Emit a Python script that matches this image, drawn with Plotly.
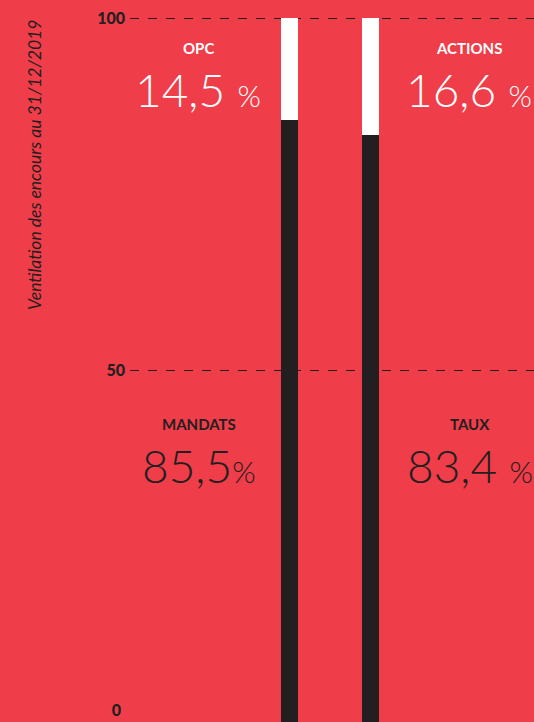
import plotly.graph_objects as go

# ---- data ----
categories = ["OPC / Mandats", "Actions / Taux"]
bottom_labels = ["MANDATS", "TAUX"]
bottom_values = [85.5, 83.4]
top_labels = ["OPC", "ACTIONS"]
top_values = [14.5, 16.6]
bottom_texts = ["85,5", "83,4"]
top_texts = ["14,5", "16,6"]
y_ticks = [50, 100]
y_title = "Ventilation des encours au 31/12/2019"

RED = "#EF3D49"
DARK = "#231F20"
WHITE = "#FFFFFF"

W, H = 534, 722
ML, MT = 130, 17
PW, PH = W - ML, H - MT
YMAX = 100.2

def px(x):
    return (x - ML) / PW

def py(y):
    return (H - y) / PH

fig = go.Figure()
fig.add_trace(go.Bar(x=[0, 1], y=bottom_values, marker=dict(color=DARK, line=dict(width=0)),
                     width=0.21, hoverinfo="skip"))
fig.add_trace(go.Bar(x=[0, 1], y=top_values, marker=dict(color=WHITE, line=dict(width=0)),
                     width=0.21, hoverinfo="skip"))
# invisible trace to carry the secondary axis for the "0" label
fig.add_trace(go.Scatter(x=[0], y=[50], yaxis="y2", mode="markers",
                         marker=dict(opacity=0), hoverinfo="skip", showlegend=False))

tickfont = dict(family="Lato", size=16, color=DARK, weight=900)

fig.update_layout(
    width=W, height=H, barmode="stack", showlegend=False,
    paper_bgcolor=RED, plot_bgcolor=RED,
    margin=dict(l=ML, r=0, t=MT, b=0, pad=0),
    bargap=0,
    xaxis=dict(range=[-1.969, 3.019], showgrid=False, zeroline=False,
               showticklabels=False, ticks="", fixedrange=True),
    yaxis=dict(range=[0, YMAX], tickvals=y_ticks, ticktext=[str(v) for v in y_ticks],
               showgrid=True, gridcolor=DARK, gridwidth=1, griddash="dash",
               zeroline=False, ticks="", tickfont=tickfont, ticklabelstandoff=4),
    yaxis2=dict(range=[0, YMAX], overlaying="y", anchor="x", side="left",
                tickvals=[0], ticktext=["0"], showgrid=False, zeroline=False, ticks="",
                tickfont=tickfont, ticklabelposition="outside top",
                ticklabelstandoff=8, showline=False),
)

label_x = [198, 469]
num_x = [198, 469]

def ann(x, y, text, font, **kw):
    d = dict(x=px(x), y=py(y), xref="paper", yref="paper", text=text, showarrow=False,
             xanchor="center", yanchor="middle", font=font)
    d.update(kw)
    return d

anns = []
for i in range(2):
    anns.append(ann(label_x[i], 48, top_labels[i],
                    dict(family="Lato", size=15, color=WHITE, weight="bold")))
    anns.append(ann(num_x[i], 89, f"{top_texts[i]} <span style='font-size:30px'>%</span>",
                    dict(family="Lato", size=46, color=WHITE, weight=300)))
    anns.append(ann(label_x[i] + 1, 424, bottom_labels[i],
                    dict(family="Lato", size=15, color=DARK, weight="bold")))
    sep = "" if i == 0 else " "
    anns.append(ann(num_x[i] + 1, 465, f"{bottom_texts[i]}{sep}<span style='font-size:30px'>%</span>",
                    dict(family="Lato", size=46, color=DARK, weight=300)))

anns.append(ann(35, 165, f"<i>{y_title}</i>",
                dict(family="Lato", size=17.5, color=DARK), textangle=-90))
fig.update_layout(annotations=anns)

fig.write_html("out.html", config={"displayModeBar": False},
               post_script="document.body.style.margin='0';")
